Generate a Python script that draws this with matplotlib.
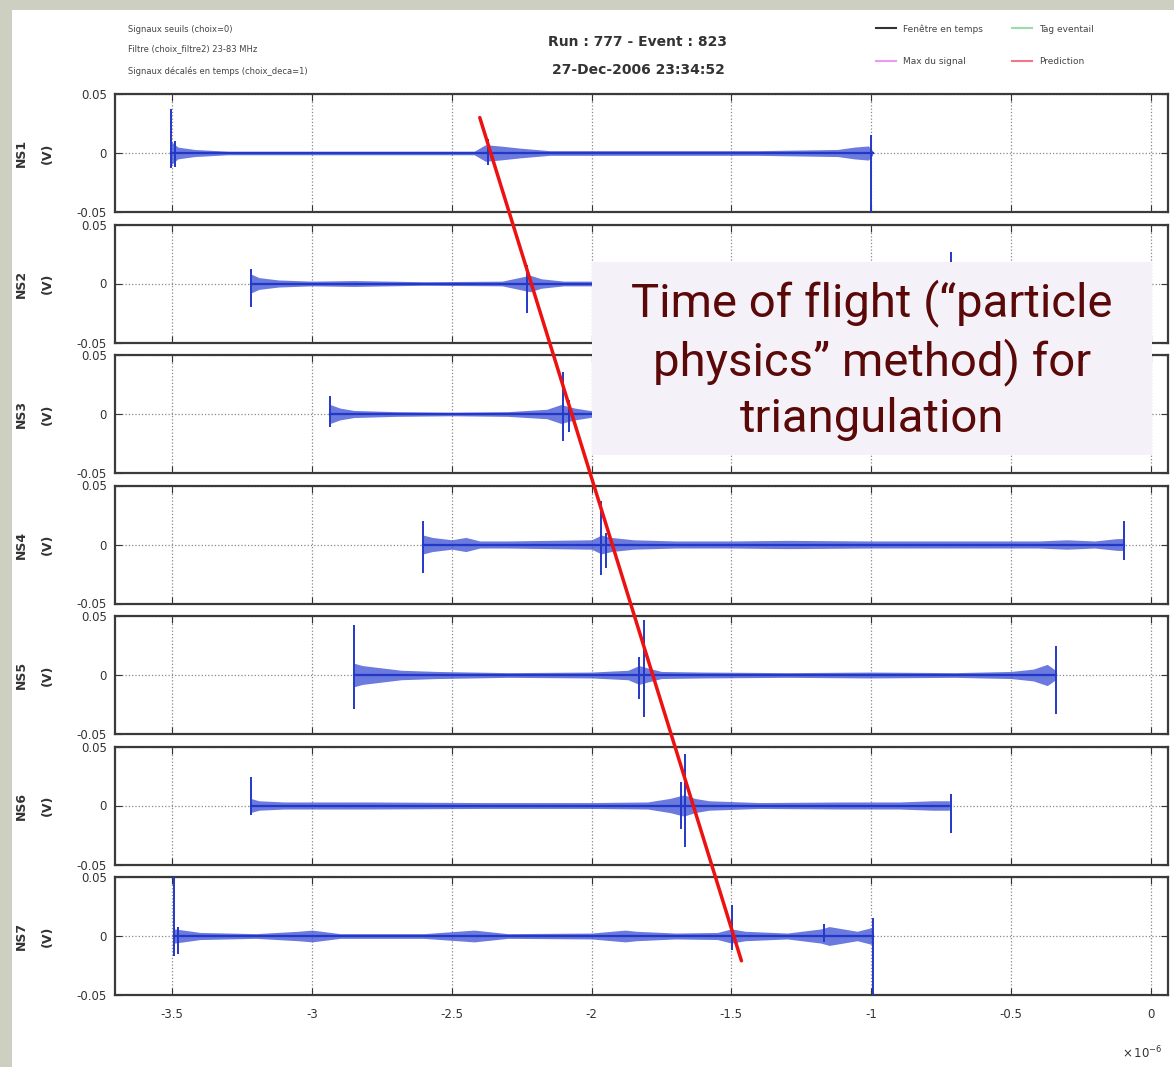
import matplotlib.pyplot as plt
from matplotlib.patches import Rectangle, ConnectionPatch
from matplotlib.lines import Line2D

# --- data (time in units of 1e-6 s, signal in V) ---
names = ['NS1', 'NS2', 'NS3', 'NS4', 'NS5', 'NS6', 'NS7']
xticks = [-3.5, -3, -2.5, -2, -1.5, -1, -0.5, 0]
xtick_labels = ['-3.5', '-3', '-2.5', '-2', '-1.5', '-1', '-0.5', '0']
yticks = [-0.05, 0, 0.05]
ytick_labels = ['-0.05', '0', '0.05']

# noise envelope of each trace (time, half-amplitude)
env_t1 = [-3.505, -3.48, -3.42, -3.30, -3.0, -2.6, -2.42, -2.38, -2.33, -2.25, -2.15, -1.8, -1.4, -1.12, -1.06, -1.01, -0.995]
env_a1 = [0.010, 0.005, 0.003, 0.0015, 0.0015, 0.0015, 0.0015, 0.007, 0.006, 0.004, 0.002, 0.002, 0.002, 0.003, 0.005, 0.006, 0.002]
env_t2 = [-3.218, -3.19, -3.12, -3.0, -2.85, -2.6, -2.32, -2.26, -2.22, -2.18, -2.1, -1.9, -1.5, -1.1, -0.80, -0.73, -0.71]
env_a2 = [0.008, 0.005, 0.003, 0.002, 0.0025, 0.0015, 0.002, 0.005, 0.007, 0.004, 0.002, 0.002, 0.002, 0.002, 0.002, 0.004, 0.001]
env_t3 = [-2.935, -2.90, -2.85, -2.7, -2.5, -2.3, -2.16, -2.11, -2.06, -1.98, -1.8, -1.4, -1.0, -0.6, -0.55]
env_a3 = [0.008, 0.005, 0.003, 0.002, 0.0015, 0.002, 0.004, 0.008, 0.005, 0.002, 0.0015, 0.0015, 0.0015, 0.002, 0.001]
env_t4 = [-2.603, -2.57, -2.50, -2.45, -2.40, -2.30, -2.15, -2.00, -1.965, -1.93, -1.85, -1.7, -1.5, -1.3, -1.0, -0.8, -0.6, -0.4, -0.3, -0.2, -0.12, -0.097]
env_a4 = [0.008, 0.006, 0.004, 0.006, 0.003, 0.003, 0.0035, 0.004, 0.008, 0.006, 0.004, 0.003, 0.003, 0.0035, 0.003, 0.003, 0.003, 0.003, 0.004, 0.003, 0.005, 0.005]
env_t5 = [-2.85, -2.82, -2.75, -2.68, -2.55, -2.3, -2.0, -1.87, -1.83, -1.80, -1.75, -1.6, -1.3, -1.0, -0.7, -0.5, -0.42, -0.37, -0.34]
env_a5 = [0.010, 0.008, 0.006, 0.004, 0.003, 0.002, 0.0025, 0.004, 0.008, 0.006, 0.003, 0.0025, 0.002, 0.0025, 0.002, 0.003, 0.005, 0.009, 0.004]
env_t6 = [-3.22, -3.19, -3.1, -2.8, -2.4, -2.0, -1.8, -1.72, -1.67, -1.63, -1.58, -1.4, -1.1, -0.9, -0.78, -0.72]
env_a6 = [0.006, 0.004, 0.003, 0.003, 0.0025, 0.0025, 0.003, 0.006, 0.009, 0.006, 0.004, 0.0025, 0.003, 0.003, 0.004, 0.004]
env_t7 = [-3.493, -3.46, -3.40, -3.2, -3.05, -3.0, -2.9, -2.6, -2.42, -2.38, -2.3, -2.0, -1.88, -1.84, -1.7, -1.55, -1.50, -1.45, -1.3, -1.18, -1.15, -1.05, -1.00, -0.995]
env_a7 = [0.006, 0.005, 0.003, 0.002, 0.004, 0.005, 0.002, 0.002, 0.005, 0.004, 0.002, 0.0025, 0.005, 0.004, 0.0025, 0.003, 0.006, 0.004, 0.0025, 0.006, 0.008, 0.004, 0.007, 0.003]

# spikes (time, max, min)
spk_t1 = [-3.505, -3.49, -2.37, -1.0]
spk_hi1 = [0.037, 0.01, 0.012, 0.015]
spk_lo1 = [-0.013, -0.012, -0.010, -0.05]
spk_t2 = [-3.218, -2.23, -0.716]
spk_hi2 = [0.012, 0.016, 0.027]
spk_lo2 = [-0.020, -0.025, -0.012]
spk_t3 = [-2.935, -2.103, -2.08]
spk_hi3 = [0.015, 0.036, 0.012]
spk_lo3 = [-0.011, -0.023, -0.015]
spk_t4 = [-2.603, -1.965, -1.95, -0.097]
spk_hi4 = [0.020, 0.037, 0.01, 0.020]
spk_lo4 = [-0.024, -0.026, -0.02, -0.013]
spk_t5 = [-2.85, -1.814, -1.83, -0.34]
spk_hi5 = [0.042, 0.047, 0.015, 0.025]
spk_lo5 = [-0.029, -0.036, -0.02, -0.033]
spk_t6 = [-3.22, -1.666, -1.68, -0.716]
spk_hi6 = [0.024, 0.044, 0.02, 0.010]
spk_lo6 = [-0.008, -0.035, -0.02, -0.023]
spk_t7 = [-3.493, -3.48, -1.497, -1.17, -0.995]
spk_hi7 = [0.05, 0.008, 0.026, 0.01, 0.015]
spk_lo7 = [-0.017, -0.015, -0.012, -0.005, -0.05]

# red time-of-flight line: (time, value) in first and last panel
tof_start = (-2.40, 0.030)
tof_end = (-1.464, -0.021)

envs = [(env_t1, env_a1), (env_t2, env_a2), (env_t3, env_a3), (env_t4, env_a4),
        (env_t5, env_a5), (env_t6, env_a6), (env_t7, env_a7)]
spikes = [(spk_t1, spk_hi1, spk_lo1), (spk_t2, spk_hi2, spk_lo2), (spk_t3, spk_hi3, spk_lo3),
          (spk_t4, spk_hi4, spk_lo4), (spk_t5, spk_hi5, spk_lo5), (spk_t6, spk_hi6, spk_lo6),
          (spk_t7, spk_hi7, spk_lo7)]

W, H = 1174, 1067
fig = plt.figure(figsize=(W / 100, H / 100), dpi=100)
fig.patch.set_facecolor('#cdcfc0')
fig.add_artist(Rectangle((12 / W, 0), 1, 1 - 10 / H, transform=fig.transFigure,
                         facecolor='white', edgecolor='none', zorder=0))

blue = '#2438c8'
left, width = 115 / W, 1053 / W
axes = []
for i in range(7):
    top = 94 + i * 130.5
    ax = fig.add_axes([left, 1 - (top + 118) / H, width, 118 / H])
    et, ea = envs[i]
    ax.fill_between(et, [-a for a in ea], ea, color='#3a4dd4', alpha=0.75, lw=0, zorder=3)
    ax.plot(et, [0] * len(et), color=blue, lw=1.6, zorder=3)
    st, hi, lo = spikes[i]
    ax.vlines(st, lo, hi, color=blue, lw=1.4, zorder=3)
    ax.set_xlim(-3.705, 0.062)
    ax.set_ylim(-0.05, 0.05)
    ax.set_xticks(xticks)
    ax.set_yticks(yticks)
    ax.set_yticklabels(ytick_labels, fontsize=8.5, color='#333333')
    ax.grid(True, linestyle=':', color='#888888', lw=0.9)
    ax.tick_params(direction='in', length=5, top=True, right=True, color='#333333', pad=6)
    for s in ax.spines.values():
        s.set_color('#3a3a3a')
        s.set_linewidth(1.6)
    ax.set_ylabel(names[i] + '\n(V)', fontsize=9, fontweight='bold', linespacing=2.3, color='#333333')
    ax.yaxis.set_label_coords(-0.058, 0.5)
    if i < 6:
        ax.set_xticklabels([])
    else:
        ax.set_xticklabels(xtick_labels, fontsize=8.5, color='#333333')
        ax.tick_params(axis='x', pad=9)
    axes.append(ax)

fig.text(1122 / W, 1 - 1058 / H, r'$\times\,10^{-6}$', fontsize=8.5, color='#333333')

# header texts
fig.text(128 / W, 1 - 30 / H, 'Signaux seuils (choix=0)', fontsize=6, color='#444444', va='center')
fig.text(128 / W, 1 - 49 / H, 'Filtre (choix_filtre2) 23-83 MHz', fontsize=6, color='#444444', va='center')
fig.text(128 / W, 1 - 71 / H, 'Signaux décalés en temps (choix_deca=1)', fontsize=6, color='#444444', va='center')
fig.text(638 / W, 1 - 42 / H, 'Run : 777 - Event : 823', fontsize=10, fontweight='bold',
         color='#333333', ha='center', va='center')
fig.text(638 / W, 1 - 70 / H, '27-Dec-2006 23:34:52', fontsize=10, fontweight='bold',
         color='#333333', ha='center', va='center')

handles = [Line2D([], [], color='#333333', lw=1.5), Line2D([], [], color='#ee99ee', lw=1.5),
           Line2D([], [], color='#99ddaa', lw=1.5), Line2D([], [], color='#ee7788', lw=1.5)]
labels = ['Fenêtre en temps', 'Max du signal', 'Tag eventail', 'Prediction']
fig.legend(handles, labels, ncol=2, frameon=False, fontsize=6.5, loc='upper left',
           bbox_to_anchor=(868 / W, 1 - 16 / H), handlelength=2.2, columnspacing=3.2,
           labelspacing=2.6, labelcolor='#444444')

# annotation box
fig.add_artist(Rectangle((592 / W, 1 - 455 / H), 560 / W, 193 / H, transform=fig.transFigure,
                         facecolor='#f4f2f8', edgecolor='none', zorder=5))
fig.text(872 / W, 1 - 360 / H, 'Time of flight (\u201cparticle\nphysics\u201d method) for\ntriangulation',
         fontsize=34, family=['Roboto', 'DejaVu Sans'], color='#5a0808',
         ha='center', va='center', linespacing=1.3, zorder=6)

con = ConnectionPatch(xyA=tof_start, coordsA=axes[0].transData, xyB=tof_end, coordsB=axes[6].transData,
                      color='#ee1111', lw=2.5, zorder=7)
fig.add_artist(con)

fig.savefig('out.png', dpi=100, facecolor=fig.get_facecolor())
